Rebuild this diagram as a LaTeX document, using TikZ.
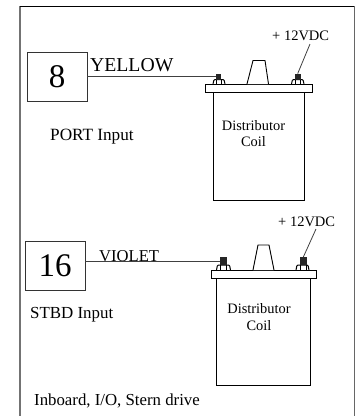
\documentclass[tikz,border=0pt]{standalone}
\usepackage{fontspec}
\setmainfont{Liberation Serif}

\tikzset{
  inputbox/.style={draw=black!80,line width=0.8pt,minimum width=59.5pt,minimum height=49pt,inner sep=0pt,font=\fontsize{33}{33}\selectfont},
  part/.style={draw=black,line width=0.9pt,fill=white,inner sep=0pt},
  nut/.style={draw=black,line width=1pt,rounded corners=1pt},
  studbox/.style={fill=black!85,inner sep=0pt,minimum width=5pt,minimum height=6pt},
  label/.style={inner sep=0pt,anchor=base west,font=\fontsize{#1}{#1}\selectfont},
  coillabel/.style={inner sep=0pt,anchor=base,font=\fontsize{14.4}{14.4}\selectfont},
  wire/.style={draw=black!75,line width=0.8pt}
}

\begin{document}
\begin{tikzpicture}[x=1pt,y=-1pt]
  \useasboundingbox (0,0) rectangle (357,416);

  % Frame
  \draw[black!55,line width=1.4pt] (20,6) -- (20,416);
  \draw[black,line width=0.8pt] (20,6) -- (354,6);
  \draw[black!60,line width=1pt] (354,6) -- (354,416);

  % Top: input 8
  \node[inputbox] (box8) at (57.2,76.5) {8};
  \node[label=19.7] (yellow) at (90,71) {YELLOW};
  \node[label=17.2] (port) at (50,140) {PORT Input};

  % Top coil
  \draw[part] (213,92) rectangle (304.5,200);
  \draw[part] (205,84) rectangle (312.5,92);
  \draw[part] (247,84) -- (253,60.5) -- (265,60.5) -- (268.5,84);
  \node[coillabel] (dist1) at (253.5,130) {Distributor};
  \node[coillabel] (coil1) at (253.5,146) {Coil};
  \draw[nut] (213,84) -- (214,79.5) -- (224,79.5) -- (225,84);
  \draw[nut] (291.5,84) -- (292.5,79.5) -- (303,79.5) -- (304,84);
  \draw[black,line width=0.7pt] (216.5,80) -- (216.5,84) (221,80) -- (221,84);
  \draw[black,line width=0.7pt] (295.5,80) -- (295.5,84) (300,80) -- (300,84);
  \node[studbox] (stud8) at (218.5,76.8) {};
  \node[studbox,minimum width=6pt] (stud12a) at (297.7,76.8) {};
  \node[label=14.5] (vdc1) at (272,40) {+ 12VDC};
  \coordinate (lead1) at (310,44);
  \draw[wire] (stud12a.north) -- (lead1);
  \draw[wire] (box8.east |- stud8.west) -- (stud8.west);

  % Bottom: input 16
  \node[inputbox] (box16) at (55.2,265.5) {16};
  \node[label=16.6] (violet) at (99,261) {VIOLET};
  \node[label=16.9] (stbd) at (30,318) {STBD Input};
  \node[label=16.8] (inboard) at (34,405) {Inboard, I/O, Stern drive};

  % Bottom coil
  \draw[part] (216.5,278) rectangle (310,385);
  \draw[part] (211,270) rectangle (316.5,278);
  \draw[part] (253,270) -- (258,245) -- (269,245) -- (274,270);
  \node[coillabel] (dist2) at (259,313.5) {Distributor};
  \node[coillabel] (coil2) at (259,330.7) {Coil};
  \draw[nut] (216.5,270) -- (217.5,265) -- (229.5,265) -- (230.5,270);
  \draw[nut] (296,270) -- (297,265) -- (308,265) -- (309,270);
  \draw[black,line width=0.7pt] (220.5,265) -- (220.5,270) (226,265) -- (226,270);
  \draw[black,line width=0.7pt] (300.5,265) -- (300.5,270) (306,265) -- (306,270);
  \node[studbox,minimum width=6.5pt,minimum height=8pt] (stud16) at (223.3,261.3) {};
  \node[studbox,minimum width=6.5pt,minimum height=8pt] (stud12b) at (303.3,261.3) {};
  \node[label=14.5] (vdc2) at (278,226.7) {+ 12VDC};
  \coordinate (lead2) at (316,229);
  \draw[wire] (stud12b.north) -- (lead2);
  \draw[wire] (box16.east |- stud16.west) -- (stud16.west);
\end{tikzpicture}
\end{document}
